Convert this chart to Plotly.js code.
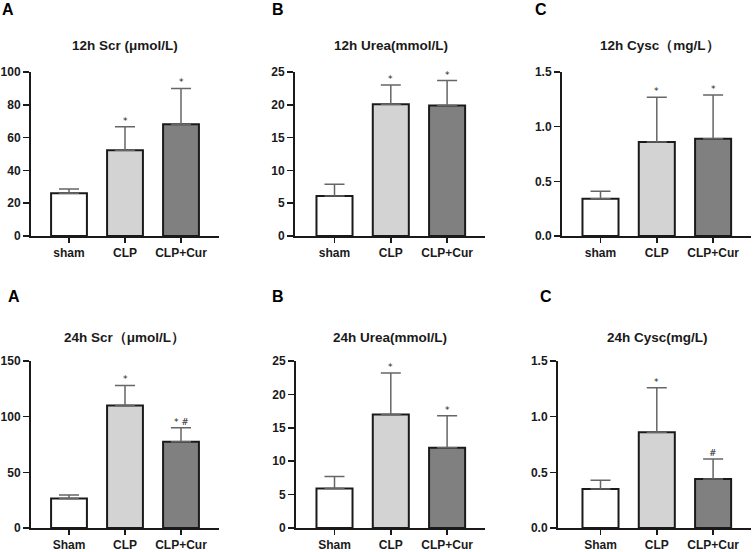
<!DOCTYPE html>
<html>
<head>
<meta charset="utf-8">
<script src="https://cdn.plot.ly/plotly-3.0.1.min.js"></script>
<style>html,body{margin:0;padding:0;background:#fff;}#chart{width:754px;height:552px;}</style>
</head>
<body>
<div id="chart"></div>
<script>
// ---- data ----
const groups12 = ['sham', 'CLP', 'CLP+Cur'];
const groups24 = ['Sham', 'CLP', 'CLP+Cur'];
const barColors = ['#ffffff', '#d3d3d3', '#808080'];

const scr12 = [26, 52.3, 68.2];
const scr12Err = [2.6, 14.3, 21.8];
const urea12 = [6.1, 20.1, 19.9];
const urea12Err = [1.8, 2.9, 3.8];
const cysc12 = [0.34, 0.86, 0.89];
const cysc12Err = [0.07, 0.41, 0.40];

const scr24 = [26.5, 110, 77.5];
const scr24Err = [3.2, 18, 12.5];
const urea24 = [5.9, 17.0, 12.0];
const urea24Err = [1.8, 6.2, 4.8];
const cysc24 = [0.35, 0.86, 0.44];
const cysc24Err = [0.08, 0.40, 0.18];

const marks12Scr = ['', '*', '*'];
const marks12Urea = ['', '*', '*'];
const marks12Cysc = ['', '*', '*'];
const marks24Scr = ['', '*', '* #'];
const marks24Urea = ['', '*', '*'];
const marks24Cysc = ['', '*', '#'];

const titles = ['12h Scr (μmol/L)', '12h Urea(mmol/L)', '12h Cysc（mg/L）',
                '24h Scr（μmol/L）', '24h Urea(mmol/L)', '24h Cysc(mg/L)'];
const panelLetters = ['A', 'B', 'C', 'A', 'B', 'C'];
const yMax = [100, 25, 1.5, 150, 25, 1.5];
const yStep = [20, 5, 0.5, 50, 5, 0.5];

// ---- layout geometry (pixels) ----
const W = 754, H = 552;
const panels = [
  {x0: 31, x1: 219, y0: 72, y1: 236, c0: 69, dc: 56},
  {x0: 295, x1: 485, y0: 72, y1: 236, c0: 334.5, dc: 56.3},
  {x0: 562, x1: 751, y0: 72, y1: 236, c0: 600.5, dc: 56.3},
  {x0: 31, x1: 219, y0: 361, y1: 528, c0: 69, dc: 56},
  {x0: 296, x1: 485, y0: 361, y1: 528, c0: 334.5, dc: 56.3},
  {x0: 558, x1: 751, y0: 361, y1: 528, c0: 600.5, dc: 56.3}
];
const titlePos = [[125, 45], [391, 45], [660, 45], [124, 337], [390, 337], [657, 337]];
const letterPos = [[8, 10], [278, 10], [541, 10], [14, 296], [278, 296], [546, 296]];

const panelData = [
  [groups12, scr12, scr12Err, marks12Scr],
  [groups12, urea12, urea12Err, marks12Urea],
  [groups12, cysc12, cysc12Err, marks12Cysc],
  [groups24, scr24, scr24Err, marks24Scr],
  [groups24, urea24, urea24Err, marks24Urea],
  [groups24, cysc24, cysc24Err, marks24Cysc]
];

const FONT = 'Liberation Sans, Arial, Helvetica, sans-serif';
const traces = [];
const layout = {
  width: W, height: H,
  margin: {l: 0, r: 0, t: 0, b: 0},
  paper_bgcolor: '#ffffff', plot_bgcolor: '#ffffff',
  showlegend: false,
  font: {family: FONT, color: '#1a1a1a'},
  annotations: []
};

panelData.forEach((pd, i) => {
  const [cats, vals, errs, marks] = pd;
  const n = i + 1;
  const xa = 'x' + (n === 1 ? '' : n), ya = 'y' + (n === 1 ? '' : n);
  traces.push({
    type: 'bar', x: [0, 1, 2], y: vals, xaxis: xa, yaxis: ya,
    width: 0.64,
    marker: {color: barColors, line: {color: '#1a1a1a', width: 2}},
    error_y: {type: 'data', symmetric: false, array: errs, arrayminus: [0, 0, 0],
              color: '#666666', thickness: 1.5, width: 10},
    hoverinfo: 'none'
  });
  const p = panels[i];
  const left = (p.x0 - p.c0) / p.dc, right = (p.x1 - p.c0) / p.dc;
  layout['xaxis' + (n === 1 ? '' : n)] = {
    domain: [p.x0 / W, p.x1 / W], anchor: ya,
    range: [left, right], tickmode: 'array', tickvals: [0, 1, 2], ticktext: cats,
    showline: true, linecolor: '#1a1a1a', linewidth: 2, showgrid: false, zeroline: false,
    ticks: 'outside', ticklen: 5, tickwidth: 1.5, tickcolor: '#1a1a1a',
    tickfont: {family: FONT, size: 12, weight: 'bold', color: '#1a1a1a'}, fixedrange: true
  };
  layout['yaxis' + (n === 1 ? '' : n)] = {
    domain: [1 - p.y1 / H, 1 - p.y0 / H], anchor: xa,
    range: [0, yMax[i]], dtick: yStep[i], tick0: 0,
    tickformat: yMax[i] < 5 ? '.1f' : 'd',
    showline: true, linecolor: '#1a1a1a', linewidth: 2, showgrid: false, zeroline: false,
    ticks: 'outside', ticklen: 6, tickwidth: 1.5, tickcolor: '#1a1a1a',
    tickfont: {family: FONT, size: 12, weight: 'bold', color: '#1a1a1a'}, fixedrange: true
  };
  marks.forEach((m, k) => {
    if (!m) return;
    layout.annotations.push({
      xref: xa, yref: ya, x: k, y: vals[k] + errs[k], text: m, showarrow: false,
      yanchor: 'bottom', yshift: -1,
      font: {family: 'DejaVu Sans, sans-serif', size: 9, color: '#222222'}
    });
  });
  layout.annotations.push({
    xref: 'paper', yref: 'paper', x: titlePos[i][0] / W, y: 1 - titlePos[i][1] / H,
    xanchor: 'center', yanchor: 'middle', text: titles[i], showarrow: false,
    font: {family: FONT, size: 13.5, weight: 'bold', color: '#1a1a1a'}
  });
  layout.annotations.push({
    xref: 'paper', yref: 'paper', x: letterPos[i][0] / W, y: 1 - letterPos[i][1] / H,
    xanchor: 'center', yanchor: 'middle', text: panelLetters[i], showarrow: false,
    font: {family: FONT, size: 16, weight: 'bold', color: '#000000'}
  });
});

Plotly.newPlot('chart', traces, layout, {staticPlot: true, displayModeBar: false});
</script>
</body>
</html>
